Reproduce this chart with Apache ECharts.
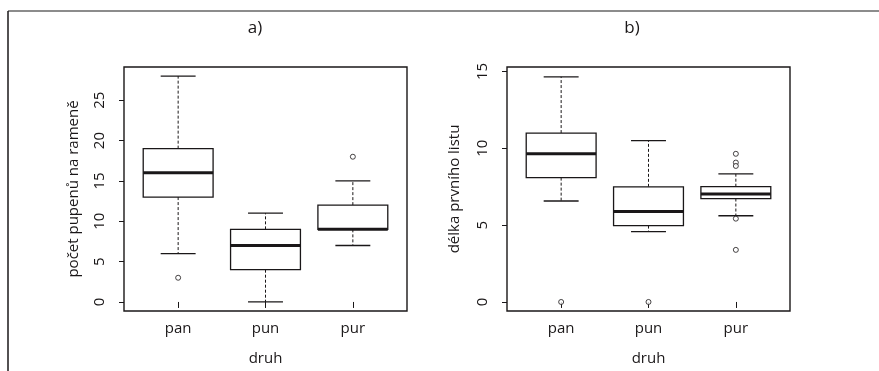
<!DOCTYPE html>
<html>
<head>
<meta charset="utf-8">
<script src="https://cdn.jsdelivr.net/npm/echarts@6/dist/echarts.min.js"></script>
<style>
  html, body { margin: 0; padding: 0; background: #fff; }
  #chart { width: 879px; height: 371px; }
</style>
</head>
<body>
<div id="chart"></div>
<script>
// druhy (x kategorie)
const categories = ['pan', 'pun', 'pur']

// a) pocet pupenu na rameni: [min, Q1, median, Q3, max]
const budsStats = [
  [6, 13, 16, 19, 28],
  [0, 4, 7, 9, 11],
  [7, 9, 9, 12, 15]
]
// [index druhu, hodnota]
const budsOutliers = [[0, 3], [2, 18]]
const budsTicks = [0, 5, 10, 15, 20, 25]

// b) delka prvniho listu
const leafStats = [
  [6.57, 8.09, 9.64, 10.99, 14.65],
  [4.58, 4.97, 5.89, 7.49, 10.5],
  [5.61, 6.73, 7.03, 7.5, 8.33]
]
const leafOutliers = [[0, 0], [1, 0], [2, 9.64], [2, 9.07], [2, 8.85], [2, 5.42], [2, 3.39]]
const leafTicks = [0, 5, 10, 15]

const ink = '#1a1718'
const font = 'Open Sans'

// R-style box: dashed whiskers, caps, box, thick median
function renderBox(params, api) {
  const x = api.value(0)
  const pMin = api.coord([x, api.value(1)])
  const pQ1 = api.coord([x, api.value(2)])
  const pMed = api.coord([x, api.value(3)])
  const pQ3 = api.coord([x, api.value(4)])
  const pMax = api.coord([x, api.value(5)])
  const half = api.size([0.8, 0])[0] / 2
  const cap = half / 2
  const cx = pMed[0]
  const solid = { stroke: ink, lineWidth: 1.3, fill: null }
  const dashed = { stroke: ink, lineWidth: 1, lineDash: [3, 2] }
  return {
    type: 'group',
    children: [
      { type: 'line', shape: { x1: cx, y1: pQ3[1], x2: cx, y2: pMax[1] }, style: dashed },
      { type: 'line', shape: { x1: cx, y1: pQ1[1], x2: cx, y2: pMin[1] }, style: dashed },
      { type: 'line', shape: { x1: cx - cap, y1: pMax[1], x2: cx + cap, y2: pMax[1] }, style: solid },
      { type: 'line', shape: { x1: cx - cap, y1: pMin[1], x2: cx + cap, y2: pMin[1] }, style: solid },
      { type: 'rect', shape: { x: cx - half, y: pQ3[1], width: half * 2, height: pQ1[1] - pQ3[1] },
        style: { stroke: ink, lineWidth: 1.3, fill: '#fff' } },
      { type: 'line', shape: { x1: cx - half, y1: pMed[1], x2: cx + half, y2: pMed[1] },
        style: { stroke: ink, lineWidth: 3 } }
    ]
  }
}

function xAxis(gridIndex) {
  return {
    type: 'value',
    gridIndex: gridIndex,
    min: 0.38,
    max: 3.62,
    name: 'druh',
    nameLocation: 'middle',
    nameGap: 40,
    nameTextStyle: { color: ink, fontFamily: font, fontSize: 15 },
    axisLine: { show: false },
    splitLine: { show: false },
    axisTick: { show: true, customValues: [1, 2, 3], length: 6, lineStyle: { color: ink } },
    axisLabel: {
      customValues: [1, 2, 3],
      formatter: v => categories[v - 1],
      color: ink, fontFamily: font, fontSize: 15, margin: 10
    }
  }
}

function yAxis(gridIndex, min, max, ticks, name, nameGap) {
  return {
    type: 'value',
    gridIndex: gridIndex,
    min: min,
    max: max,
    name: name,
    nameLocation: 'middle',
    nameGap: nameGap,
    nameTextStyle: { color: ink, fontFamily: font, fontSize: 15 },
    axisLine: { show: false },
    splitLine: { show: false },
    axisTick: { show: true, customValues: ticks, length: 5, lineStyle: { color: ink } },
    axisLabel: {
      customValues: ticks,
      rotate: 90,
      color: ink, fontFamily: font, fontSize: 15, margin: 17
    }
  }
}

function boxData(stats) {
  return stats.map((s, i) => [i + 1].concat(s))
}
function outlierData(list) {
  return list.map(o => [o[0] + 1, o[1]])
}

const chart = echarts.init(document.getElementById('chart'), null, { renderer: 'canvas' })
chart.setOption({
  animation: false,
  title: [
    { text: 'a)', left: 250, top: 15, textAlign: 'center',
      textStyle: { color: ink, fontFamily: font, fontSize: 17, fontWeight: 'normal' } },
    { text: 'b)', left: 627, top: 15, textAlign: 'center',
      textStyle: { color: ink, fontFamily: font, fontSize: 17, fontWeight: 'normal' } }
  ],
  grid: [
    { left: 124, top: 67, width: 283, height: 246, show: true, borderColor: ink, borderWidth: 1.4 },
    { left: 507, top: 67, width: 283, height: 246, show: true, borderColor: ink, borderWidth: 1.4 }
  ],
  xAxis: [xAxis(0), xAxis(1)],
  yAxis: [
    yAxis(0, -1.12, 29.12, budsTicks, 'počet pupenů na rameně', 43),
    yAxis(1, -0.588, 15.288, leafTicks, 'délka prvního listu', 45)
  ],
  graphic: [
    { type: 'line', shape: { x1: 8, y1: 11, x2: 879, y2: 11 }, style: { stroke: '#8c8c8c', lineWidth: 2 } },
    { type: 'line', shape: { x1: 8, y1: 11, x2: 8, y2: 371 }, style: { stroke: ink, lineWidth: 1.5 } }
  ],
  series: [
    { type: 'custom', xAxisIndex: 0, yAxisIndex: 0, renderItem: renderBox,
      encode: { x: 0, y: [1, 2, 3, 4, 5] }, data: boxData(budsStats) },
    { type: 'scatter', xAxisIndex: 0, yAxisIndex: 0, symbol: 'circle', symbolSize: 5,
      itemStyle: { color: '#fff', borderColor: ink, borderWidth: 1 },
      data: outlierData(budsOutliers) },
    { type: 'custom', xAxisIndex: 1, yAxisIndex: 1, renderItem: renderBox,
      encode: { x: 0, y: [1, 2, 3, 4, 5] }, data: boxData(leafStats) },
    { type: 'scatter', xAxisIndex: 1, yAxisIndex: 1, symbol: 'circle', symbolSize: 5,
      itemStyle: { color: '#fff', borderColor: ink, borderWidth: 1 },
      data: outlierData(leafOutliers) }
  ]
})
</script>
</body>
</html>
